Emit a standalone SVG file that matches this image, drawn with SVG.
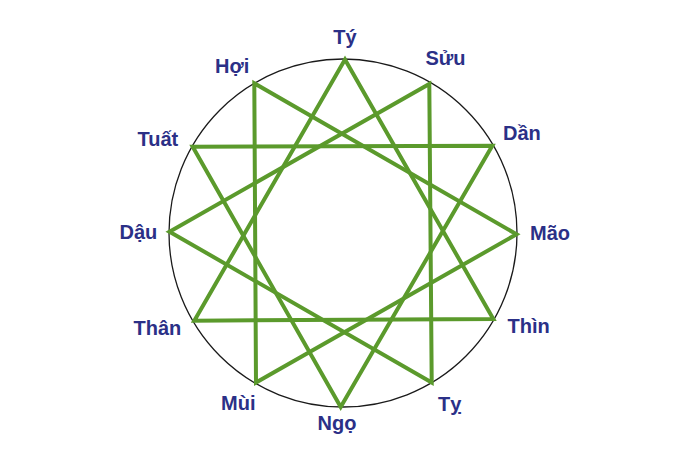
<svg xmlns="http://www.w3.org/2000/svg" width="696" height="464" viewBox="0 0 696 464">
<style>
.lbl{font-family:"Liberation Sans",Arial,sans-serif;font-weight:bold;font-size:20px;fill:#2b3087}
.ring{fill:none;stroke:#1a1a1a;stroke-width:1.3}
.tri{fill:none;stroke:#5b9a2c;stroke-width:4;stroke-linejoin:miter;stroke-miterlimit:10}
</style>
<rect width="696" height="464" fill="#ffffff"/>
<circle class="ring" cx="343" cy="233" r="174"/>
<g id="connectors">
<polygon class="tri" points="345,59.5 493.3,319 194.3,320.7"/>
<polygon class="tri" points="429.3,84 431.7,382.5 169.5,231.7"/>
<polygon class="tri" points="492.3,145.7 340.7,407 192.7,146.7"/>
<polygon class="tri" points="516.5,234.3 256,382.5 254.3,83.3"/>
</g>
<g id="node-ty"><text class="lbl" x="345" y="44" text-anchor="middle">Tý</text></g>
<g id="node-suu"><text class="lbl" x="425.5" y="65">Sửu</text></g>
<g id="node-dan"><text class="lbl" x="503" y="140">Dần</text></g>
<g id="node-mao"><text class="lbl" x="530" y="240">Mão</text></g>
<g id="node-thin"><text class="lbl" x="507.5" y="333">Thìn</text></g>
<g id="node-ty2"><text class="lbl" x="438" y="410.5">Tỵ</text></g>
<g id="node-ngo"><text class="lbl" x="317.5" y="430">Ngọ</text></g>
<g id="node-mui"><text class="lbl" x="221" y="410">Mùi</text></g>
<g id="node-than"><text class="lbl" x="133.5" y="335">Thân</text></g>
<g id="node-dau"><text class="lbl" x="119.5" y="239">Dậu</text></g>
<g id="node-tuat"><text class="lbl" x="137.5" y="145.5">Tuất</text></g>
<g id="node-hoi"><text class="lbl" x="215" y="72.5">Hợi</text></g>
</svg>
